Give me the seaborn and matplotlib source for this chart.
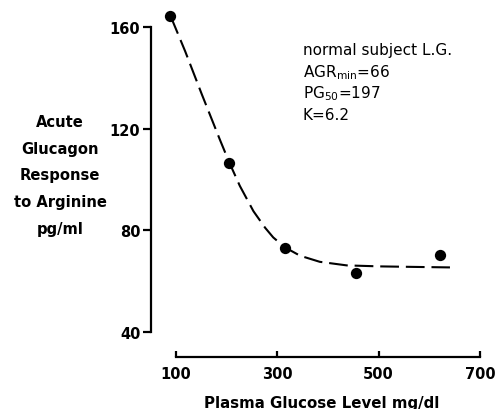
import matplotlib
matplotlib.use("Agg")
import matplotlib.pyplot as plt
import seaborn as sns
import pandas as pd

# observed points
glucose = [89, 205, 315, 456, 621]
response = [164.5, 106.3, 73.0, 63.3, 70.2]

# fitted curve
curve_x = [89.5, 118, 151, 187, 205, 226, 253, 276, 292, 315, 345, 384, 437, 503, 570, 641]
curve_y = [164.2, 150.5, 133.5, 115.5, 106.8, 97.5, 87.5, 81.0, 77.2, 73.3, 70.0, 67.6, 66.2, 65.8, 65.6, 65.4]

xticks = [100, 300, 500, 700]
yticks = [40, 80, 120, 160]

annot = ["normal subject L.G.", r"AGR$_{\rm min}$=66", r"PG$_{50}$=197", "K=6.2"]
annot_y_px = [51, 72.5, 94, 116]

sns.set_theme(style="ticks")
plt.rcParams['font.family'] = ['DejaVu Sans']
plt.rcParams['mathtext.default'] = 'regular'
for k in ["text.color", "axes.labelcolor", "xtick.color", "ytick.color", "axes.edgecolor"]:
    plt.rcParams[k] = "black"

W, H = 495, 410
fig = plt.figure(figsize=(W / 100, H / 100), dpi=100)
ax = fig.add_axes([0.3044, 0.1259, 0.6752, 0.8678])

pts = pd.DataFrame({"x": glucose, "y": response})
crv = pd.DataFrame({"x": curve_x, "y": curve_y})

sns.lineplot(data=crv, x="x", y="y", ax=ax, color="black", lw=1.5,
             sort=False, estimator=None)
ax.lines[0].set_dashes([9, 3.3])
sns.scatterplot(data=pts, x="x", y="y", ax=ax, color="black", s=66,
                edgecolor="black", linewidth=0, zorder=5)

ax.set_xlim(50, 710)
ax.set_ylim(30, 170)
ax.set_xticks(xticks)
ax.set_yticks(yticks)
ax.set_xticklabels([str(v) for v in xticks], fontsize=10.5, fontweight="bold")
ax.set_yticklabels([str(v) for v in yticks], fontsize=10.5, fontweight="bold")

for s in ["top", "right"]:
    ax.spines[s].set_visible(False)
ax.spines["left"].set_bounds(40, 160)
ax.spines["bottom"].set_bounds(100, 700)
ax.spines["left"].set_linewidth(1.6)
ax.spines["bottom"].set_linewidth(1.6)
ax.tick_params(axis="y", direction="out", length=6, width=1.6, pad=1.5)
ax.tick_params(axis="x", direction="in", length=4, width=1.6, pad=6)

ax.set_xlabel("")
ax.set_ylabel("")
fig.text(321.5 / W, 1 - 404 / H, "Plasma Glucose Level mg/dl", ha="center", va="center",
         fontsize=10.8, fontweight="bold")
fig.text(60 / W, 1 - 176 / H, "Acute\nGlucagon\nResponse\nto Arginine\npg/ml",
         ha="center", va="center", fontsize=10.6, fontweight="bold", linespacing=1.96)

for t, yp in zip(annot, annot_y_px):
    fig.text(303 / W, 1 - yp / H, t, fontsize=11, ha="left", va="center")

fig.savefig("out.png", dpi=100)
